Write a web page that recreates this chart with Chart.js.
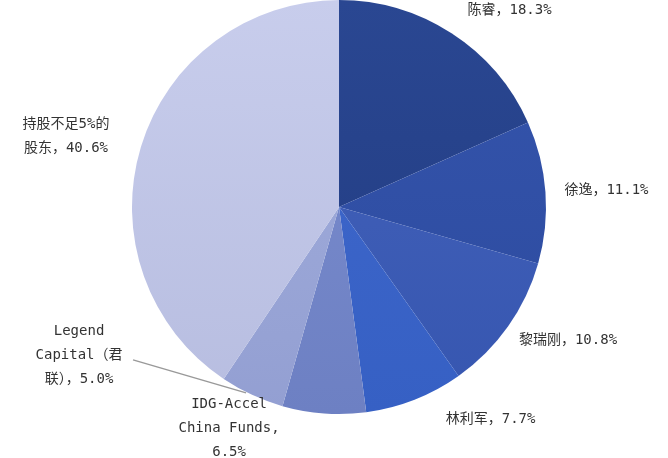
<!DOCTYPE html>
<html><head><meta charset="utf-8">
<script src="https://cdn.jsdelivr.net/npm/chart.js@4/dist/chart.umd.min.js"></script>
<style>html,body{margin:0;background:#fff}#wrap{width:668px;height:458px}</style>
</head><body><div id="wrap"><canvas id="pie"></canvas></div>
<script>
// shareholders
const names = ["陈睿","徐逸","黎瑞刚","林利军","IDG-Accel China Funds","Legend Capital（君联）","持股不足5%的股东"];
const shares = [18.3,11.1,10.8,7.7,6.5,5.0,40.6];
const labelLines = [["陈睿，18.3%"],["徐逸，11.1%"],["黎瑞刚，10.8%"],["林利军，7.7%"],["IDG-Accel","China Funds,","6.5%"],["Legend","Capital（君","联），5.0%"],["持股不足5%的","股东，40.6%"]];
const colors = [["#2a4792","#213b80"],["#3555ad","#2c4a9e"],["#4563bb","#3656b0"],["#4068cc","#3660c4"],["#7c8ecf","#6d80c3"],["#a3afdd","#939fd2"],["#c8cdec","#b7bde0"]];

// label offsets from the outer middle of each slice
const offs = [[58,-23],[61,-2],[60,14],[76,20],[-95,15],[-173,-39],[-75,-10]];

const labelPlugin = {
  id:"sliceLabels",
  afterDraw(chart){
    const c=chart.ctx, meta=chart.getDatasetMeta(0);
    c.save();
    c.font='14px "DejaVu Sans Mono", "Noto Sans CJK SC"';
    c.fillStyle="#333";c.textAlign="center";c.textBaseline="middle";
    meta.data.forEach((arc,i)=>{
      const p=arc.getProps(["x","y","startAngle","endAngle","outerRadius"],true);
      const a=(p.startAngle+p.endAngle)/2;
      const ox=p.x+Math.cos(a)*p.outerRadius, oy=p.y+Math.sin(a)*p.outerRadius;
      const lx=ox+offs[i][0], ly=oy+offs[i][1];
      const ls=labelLines[i], lh=24;
      ls.forEach((t,j)=>c.fillText(t,lx,ly+(j-(ls.length-1)/2)*lh));
      if(i===5){
        c.strokeStyle="#999";c.lineWidth=1.5;
        c.beginPath();c.moveTo(lx+54,ly+4);c.lineTo(ox-6,oy-2);c.stroke();
      }
    });
    c.restore();
  }
};

new Chart(document.getElementById("pie"),{
  type:"pie",
  data:{labels:names,datasets:[{data:shares,borderWidth:0,
    backgroundColor(ctx){
      const ch=ctx.chart, a=ch.chartArea;
      if(!a) return colors[ctx.dataIndex][0];
      const g=ch.ctx.createLinearGradient(0,a.top,0,a.bottom);
      g.addColorStop(0,colors[ctx.dataIndex][0]);g.addColorStop(1,colors[ctx.dataIndex][1]);
      return g;
    }}]},
  options:{responsive:true,maintainAspectRatio:false,animation:false,
    layout:{padding:{top:0,bottom:44,left:120,right:110}},
    plugins:{legend:{display:false},tooltip:{enabled:false}}},
  plugins:[labelPlugin]
});
</script></body></html>
